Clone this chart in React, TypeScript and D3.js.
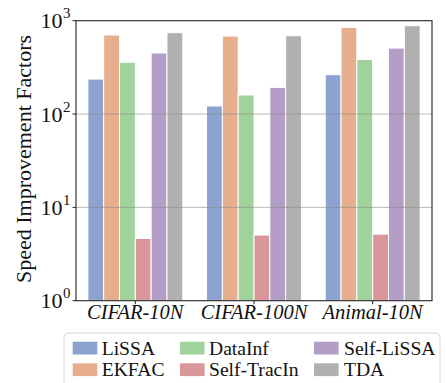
import React from "react";
import * as d3 from "d3";

const categories = ["CIFAR-10N", "CIFAR-100N", "Animal-10N"];
const methods = ["LiSSA", "EKFAC", "DataInf", "Self-TracIn", "Self-LiSSA", "TDA"];
const lissa = [237, 122, 264];
const ekfac = [703, 685, 849];
const datainf = [358, 160, 385];
const selfTracIn = [4.65, 5.05, 5.17];
const selfLissa = [451, 193, 509];
const tda = [744, 690, 884];
const colors = ["#8ca3d2", "#e6ae8c", "#a0d39b", "#d9979a", "#b49dc6", "#b0b0b0"];
const yTicks = [1, 10, 100, 1000];
const yTickExps = ["0", "1", "2", "3"];

const seriesValues = [lissa, ekfac, datainf, selfTracIn, selfLissa, tda];

const W = 446;
const H = 383;
const left = 76;
const right = 432;
const top = 20.7;
const bottom = 300.7;
const fam = "Liberation Serif";
const font = `"${fam}", monospace`;

export default function App() {
  const x = d3.scaleLinear().domain([-0.5, 2.5]).range([left, right]);
  const y = d3.scaleLog().domain([1, 1000]).range([bottom, top]);
  const barW = x(0.8 / 6) - x(0);

  const legendCols = [
    { px: 72.7, tx: 101.7 },
    { px: 180, tx: 209 },
    { px: 314, tx: 344 },
  ];
  const legendRows = [341.7, 363.3];

  return (
    <svg
      width={W}
      height={H}
      style={{ position: "absolute", left: 0, top: 0, background: "#fff" }}
    >
      <rect x={0} y={0} width={W} height={H} fill="#fff" />
      {seriesValues.map((vals, si) =>
        vals.map((v, ci) => {
          const xc = x(ci) + (si - 2.5) * barW;
          const y0 = y(v);
          return (
            <rect
              key={`${si}-${ci}`}
              x={xc - barW / 2}
              y={y0}
              width={barW}
              height={bottom - y0}
              fill={colors[si]}
              stroke="#fff"
              strokeWidth={1}
            />
          );
        })
      )}
      {yTicks.slice(1, 3).map((t) => (
        <line
          key={t}
          x1={left}
          x2={right}
          y1={y(t)}
          y2={y(t)}
          stroke="#8a8a8a"
          strokeOpacity={0.6}
          strokeWidth={1}
        />
      ))}
      <rect
        x={left}
        y={top}
        width={right - left}
        height={bottom - top}
        fill="none"
        stroke="#222"
        strokeWidth={1.1}
      />
      {yTicks.map((t, i) => (
        <g key={t}>
          <line x1={left - 3.5} x2={left} y1={y(t)} y2={y(t)} stroke="#222" strokeWidth={1} />
          <text x={62.5} y={y(t) + 7.5} fontSize={22} textAnchor="end" fill="#111" style={{ fontFamily: font }}>
            10
          </text>
          <text x={63} y={y(t) - 2.5} fontSize={15} textAnchor="start" fill="#111" style={{ fontFamily: font }}>
            {yTickExps[i]}
          </text>
        </g>
      ))}
      {categories.map((c, i) => (
        <g key={c}>
          <line x1={x(i)} x2={x(i)} y1={bottom} y2={bottom + 3.5} stroke="#222" strokeWidth={1} />
          <text
            x={x(i)}
            y={319}
            fontSize={20.5}
            textAnchor="middle"
            fill="#111"
            style={{ fontFamily: font, fontStyle: "italic" }}
          >
            {c}
          </text>
        </g>
      ))}
      <text
        transform={`translate(31, 159) rotate(-90)`}
        fontSize={22}
        textAnchor="middle"
        fill="#111"
        style={{ fontFamily: font }}
      >
        Speed Improvement Factors
      </text>
      <rect
        x={64}
        y={333}
        width={376}
        height={60}
        rx={4}
        fill="#fff"
        stroke="#d6d6d6"
        strokeWidth={1}
      />
      {methods.map((m, i) => {
        const col = Math.floor(i / 2);
        const row = i % 2;
        const py = legendRows[row];
        return (
          <g key={m}>
            <rect x={legendCols[col].px} y={py} width={24.6} height={12.8} fill={colors[i]} />
            <text x={legendCols[col].tx} y={py + 13} fontSize={19.6} fill="#111" style={{ fontFamily: font }}>
              {m}
            </text>
          </g>
        );
      })}
    </svg>
  );
}
